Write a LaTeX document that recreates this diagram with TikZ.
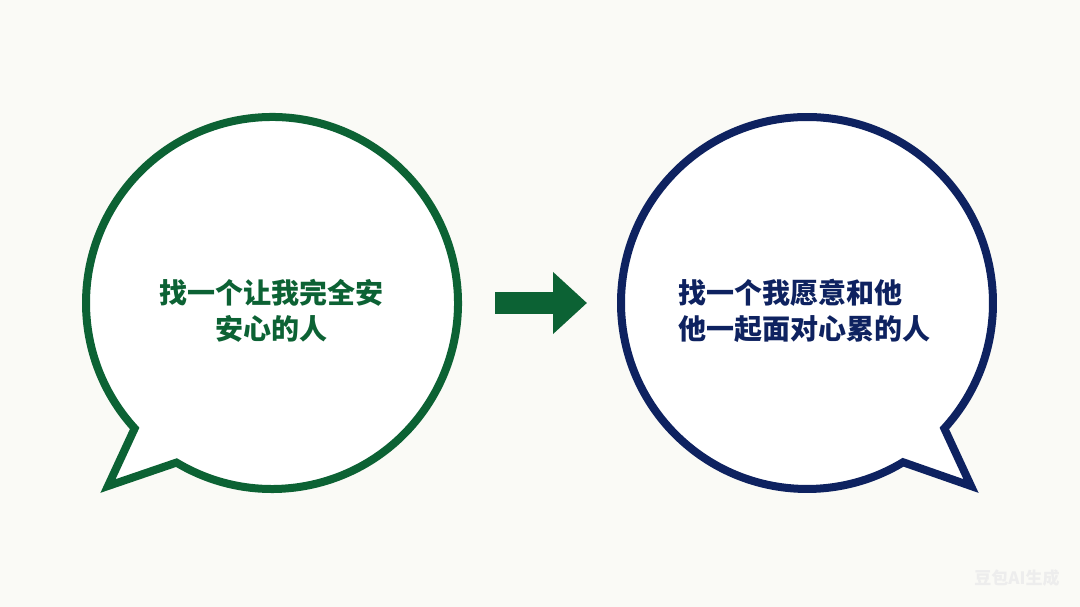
\documentclass[tikz,border=0pt]{standalone}
\usepackage{fontspec}
\newfontfamily\cjk{Noto Sans CJK SC}
\usetikzlibrary{arrows.meta}

\definecolor{bggray}{RGB}{250,250,246}
\definecolor{leafgreen}{RGB}{12,98,52}
\definecolor{deepnavy}{RGB}{14,34,96}

\begin{document}
\begin{tikzpicture}[
    x=1pt, y=1pt,
    bubble/.style={line width=8pt, line join=miter, miter limit=20, fill=white!99!bggray},
    saying/.style={font=\cjk\bfseries\fontsize{28}{36}\selectfont, inner sep=0pt},
    stamptext/.style={font=\cjk\bfseries\fontsize{17}{17}\selectfont, text=black!7}
]

% Canvas
\fill[bggray] (0,0) rectangle (1080,607);
\useasboundingbox (0,0) rectangle (1080,607);

% Centres and tail tips
\coordinate (lc) at (272,304);
\coordinate (rc) at (807,304);
\coordinate (ltip) at (108,121);
\coordinate (rtip) at (971,121);

% Left bubble
\draw[bubble, draw=leafgreen] (lc) ++(239.1:186) arc[start angle=239.1, end angle=582.4, radius=186] -- (ltip) -- cycle;

% Right bubble
\draw[bubble, draw=deepnavy] (rc) ++(317.6:186) arc[start angle=317.6, end angle=661.1, radius=186] -- (rtip) -- cycle;

% Texts
\node[saying, text=leafgreen, align=center] (ltext) at (271,296) {找一个让我完全安\\安心的人};
\node[saying, text=deepnavy, align=left, anchor=west] (rtext) at (678,296) {找一个我愿意和他\\他一起面对心累的人};

% Arrow between the bubbles
\coordinate (arrstart) at (495,304);
\coordinate (arrend) at (587,304);
\draw[leafgreen, line width=22pt, -{Triangle[length=34pt, width=60pt]}] (arrstart) -- (arrend);

% Watermark
\node[stamptext] (stamp) at (1017,29) {豆包AI生成};

\end{tikzpicture}
\end{document}
